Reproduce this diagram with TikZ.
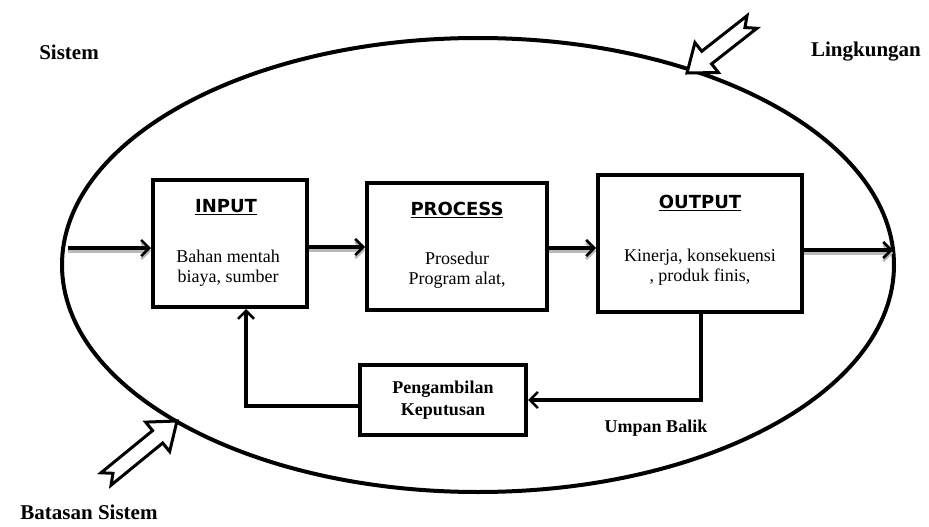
\documentclass[tikz,border=0pt]{standalone}
\usepackage{fontspec}
\setmainfont{Liberation Serif}
\newfontfamily\titlefont{DejaVu Sans}
\usetikzlibrary{arrows.meta,calc}
\tikzset{
  box/.style={draw=black, line width=4pt, fill=white, inner sep=0pt},
  ttl/.style={font=\titlefont\bfseries\fontsize{18}{20}\selectfont, inner sep=0pt},
  body/.style={font=\fontsize{18}{20}\selectfont, align=center, inner sep=0pt},
  lbl/.style={font=\bfseries\fontsize{21}{23}\selectfont, inner sep=0pt},
  blbl/.style={font=\bfseries\fontsize{18}{22}\selectfont, align=center, inner sep=0pt},
  tipA/.tip={Straight Barb[length=8pt,width=16pt,line width=2.6pt]},
  flow/.style={line width=4pt, -{tipA},
     preaction={draw=gray!55, line width=4pt, -{tipA}, transform canvas={yshift=-3pt}}},
  fb/.style={line width=4.5pt, -{tipA}},
  hollow/.style={draw=black, line width=3pt, fill=white, line join=miter},
}
\newcommand{\hollowarrow}[2]{%
  \draw[hollow]
    ($(#1)!8pt!90:(#2)$) --
    ($($(#2)!25pt!(#1)$)!8pt!90:(#2)$) --
    ($($(#2)!25pt!(#1)$)!19pt!90:(#2)$) --
    (#2) --
    ($($(#2)!25pt!(#1)$)!19pt!-90:(#2)$) --
    ($($(#2)!25pt!(#1)$)!8pt!-90:(#2)$) --
    ($(#1)!8pt!-90:(#2)$) --
    ($(#1)!9pt!(#2)$) -- cycle;}
\begin{document}
\begin{tikzpicture}[x=1pt,y=-1pt]
\useasboundingbox[fill=white] (0,0) rectangle (929,527);

% system boundary
\draw[line width=4pt] (478,265) ellipse [x radius=416, y radius=227];

% boxes
\node[box, minimum width=154pt, minimum height=127pt] (input) at (230,243.5) {};
\node[box, minimum width=180pt, minimum height=127pt] (process) at (457,246.5) {};
\node[box, minimum width=204pt, minimum height=137pt] (output) at (700,243.5) {};
\node[box, minimum width=166pt, minimum height=70pt] (decide) at (443,400) {};

% box texts
\node[ttl] (inT) at (226,207) {\underline{INPUT}};
\node[body] (inB) at (228,268) {Bahan mentah\\biaya, sumber};
\node[ttl] (prT) at (457,210) {\underline{PROCESS}};
\node[body] (prB) at (457,270) {Prosedur\\Program alat,};
\node[ttl] (ouT) at (700,203) {\underline{OUTPUT}};
\node[body] (ouB) at (700,267) {Kinerja, konsekuensi\\, produk finis,};
\node[blbl] (deT) at (443,400) {Pengambilan\\Keputusan};

% outside labels
\node[lbl] (sistem) at (69,52) {Sistem};
\node[lbl] (lingk) at (866,52) {Lingkungan};
\node[lbl] (batas) at (89,512) {Batasan Sistem};
\node[blbl] (umpan) at (656,428) {Umpan Balik};

% flow arrows
\coordinate (inStart) at (68,248);
\coordinate (outEnd) at (893,250);
\draw[flow] (inStart) -- (input.west |- inStart);
\draw[flow] (input.east |- 0,247) -- (process.west |- 0,247);
\draw[flow] (process.east |- 0,248) -- (output.west |- 0,248);
\draw[flow] (output.east |- outEnd) -- (outEnd);

% feedback
\draw[fb] ([xshift=1pt]output.south) |- (decide.east);
\draw[fb] ([yshift=-6pt]decide.west) -| ([xshift=16pt]input.south);

% hollow arrows
\coordinate (lgT) at (752,22);
\coordinate (lgH) at (687,73);
\coordinate (bsT) at (106,479);
\coordinate (bsH) at (177,421);
\hollowarrow{lgT}{lgH}
\hollowarrow{bsT}{bsH}
\end{tikzpicture}
\end{document}
